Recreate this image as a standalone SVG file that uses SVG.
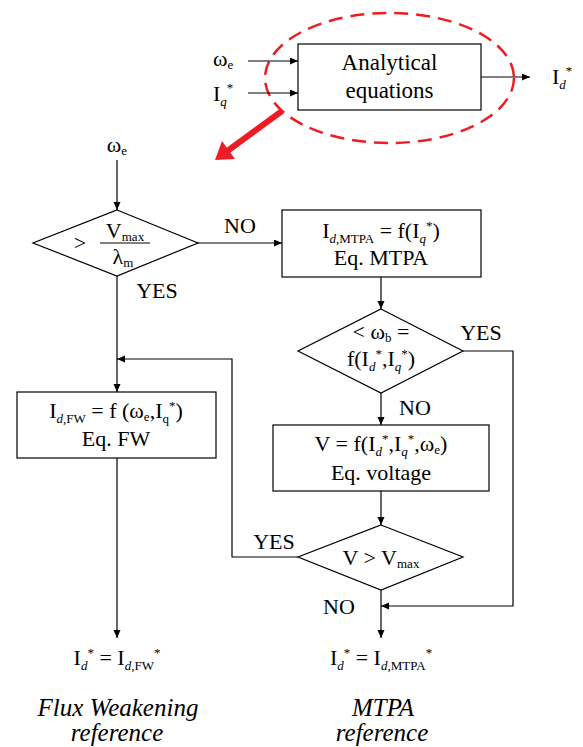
<svg xmlns="http://www.w3.org/2000/svg" width="583" height="747" viewBox="0 0 583 747">
<style>
text{font-family:"Liberation Serif","DejaVu Serif",serif}
.t{font-size:22px;fill:#000;text-anchor:middle}
.l{text-anchor:start}
.s{font-size:13px}
.i{font-style:italic}
.cap{font-size:25px;font-style:italic}
.b{fill:#fff;stroke:#000;stroke-width:1.2}
.c{fill:none;stroke:#000;stroke-width:1.2;marker-end:url(#ah)}
</style>
<defs>
<marker id="ah" markerWidth="9" markerHeight="8" refX="8" refY="3.5" orient="auto" markerUnits="userSpaceOnUse">
<path d="M0,0 L8,3.5 L0,7 z" fill="#000"/>
</marker>
</defs>
<rect width="583" height="747" fill="#fff"/>

<g id="analytical">
<rect class="b" x="298" y="44" width="183" height="66"/>
<text class="t" x="389.5" y="70" style="font-size:23px">Analytical</text>
<text class="t" x="389.5" y="98" style="font-size:23px">equations</text>
</g>
<g id="in-we"><text class="t l" x="213" y="66">ω<tspan class="s" dy="3">e</tspan></text></g>
<g id="in-iq"><text class="t l" x="213" y="101">I<tspan class="s i" dy="5">q</tspan><tspan class="s" dy="-14">*</tspan></text></g>
<g id="out-id"><text class="t l" x="552" y="84">I<tspan class="s i" dy="5">d</tspan><tspan class="s" dy="-14">*</tspan></text></g>
<g id="highlight">
<ellipse cx="389.5" cy="78" rx="124.5" ry="65" fill="none" stroke="#ee1c24" stroke-width="2.5" stroke-dasharray="14 8"/>
<line x1="282" y1="111" x2="226" y2="152" stroke="#ee1c24" stroke-width="6"/>
<polygon points="215,160 222,141 235,159" fill="#ee1c24"/>
</g>

<g id="we-label"><text class="t" x="117" y="152">ω<tspan class="s" dy="3">e</tspan></text></g>

<g id="d1">
<polygon class="b" points="117,210 198,243 117,276 33,243"/>
<text class="t" x="80" y="250">&gt;</text>
<text class="t" x="125" y="238">V<tspan class="s" dy="3">max</tspan></text>
<line x1="100" y1="243" x2="150" y2="243" stroke="#000" stroke-width="1"/>
<text class="t" x="123" y="264">λ<tspan class="s" dy="3">m</tspan></text>
</g>

<g id="mtpa">
<rect class="b" x="282" y="210" width="199" height="67"/>
<text class="t" x="381" y="238">I<tspan class="s" dy="5"><tspan class="i">d</tspan>,MTPA</tspan><tspan dy="-5"> = f(I</tspan><tspan class="s i" dy="5">q</tspan><tspan class="s" dy="-13">*</tspan><tspan dy="8">)</tspan></text>
<text class="t" x="381" y="265">Eq. MTPA</text>
</g>

<g id="d2">
<polygon class="b" points="381,309 463,351 381,393 298,351"/>
<text class="t" x="381" y="339">&lt; ω<tspan class="s" dy="3">b</tspan><tspan dy="-3"> =</tspan></text>
<text class="t" x="381" y="366">f(I<tspan class="s i" dy="5">d</tspan><tspan class="s" dy="-13">*</tspan><tspan dy="8">,I</tspan><tspan class="s i" dy="5">q</tspan><tspan class="s" dy="-13">*</tspan><tspan dy="8">)</tspan></text>
</g>

<g id="voltage">
<rect class="b" x="273" y="425" width="216" height="66"/>
<text class="t" x="381" y="451">V = f(I<tspan class="s i" dy="5">d</tspan><tspan class="s" dy="-13">*</tspan><tspan dy="8">,I</tspan><tspan class="s i" dy="5">q</tspan><tspan class="s" dy="-13">*</tspan><tspan dy="8">,ω</tspan><tspan class="s" dy="3">e</tspan><tspan dy="-3">)</tspan></text>
<text class="t" x="381" y="480">Eq. voltage</text>
</g>

<g id="d3">
<polygon class="b" points="381,525 463,557 381,590 298,557"/>
<text class="t" x="381" y="565">V &gt; V<tspan class="s" dy="3">max</tspan></text>
</g>

<g id="fw">
<rect class="b" x="17" y="392" width="199" height="66"/>
<text class="t" x="116" y="418">I<tspan class="s" dy="5"><tspan class="i">d</tspan>,FW</tspan><tspan dy="-5"> = f (ω</tspan><tspan class="s" dy="3">e</tspan><tspan dy="-3">,I</tspan><tspan class="s" dy="5">q</tspan><tspan class="s" dy="-13">*</tspan><tspan dy="8">)</tspan></text>
<text class="t" x="116" y="446">Eq. FW</text>
</g>

<g id="out-fw"><text class="t" x="117" y="665">I<tspan class="s i" dy="5">d</tspan><tspan class="s" dy="-13">*</tspan><tspan dy="8"> = I</tspan><tspan class="s" dy="5"><tspan class="i">d</tspan>,FW</tspan><tspan class="s" dy="-13">*</tspan></text></g>
<g id="out-mtpa"><text class="t" x="381" y="665">I<tspan class="s i" dy="5">d</tspan><tspan class="s" dy="-13">*</tspan><tspan dy="8"> = I</tspan><tspan class="s" dy="5"><tspan class="i">d</tspan>,MTPA</tspan><tspan class="s" dy="-13">*</tspan></text></g>

<g id="cap-fw">
<text class="t cap" x="118" y="716">Flux Weakening</text>
<text class="t cap" x="117" y="741">reference</text>
</g>
<g id="cap-mtpa">
<text class="t cap" x="383" y="716">MTPA</text>
<text class="t cap" x="382" y="741">reference</text>
</g>

<g id="connectors">
<line class="c" x1="248" y1="61" x2="298" y2="61"/>
<line class="c" x1="248" y1="93" x2="298" y2="93"/>
<line class="c" x1="481" y1="77" x2="530" y2="77"/>
<line class="c" x1="117" y1="160" x2="117" y2="210"/>
<line class="c" x1="198" y1="243" x2="282" y2="243"/>
<line class="c" x1="117" y1="276" x2="117" y2="392"/>
<line class="c" x1="381" y1="277" x2="381" y2="309"/>
<polyline class="c" points="463,351 513,351 513,606 381,606"/>
<line class="c" x1="381" y1="393" x2="381" y2="425"/>
<line class="c" x1="381" y1="491" x2="381" y2="525"/>
<polyline class="c" points="298,557 232,557 232,359 117,359"/>
<line class="c" x1="381" y1="590" x2="381" y2="638"/>
<line class="c" x1="117" y1="458" x2="117" y2="638"/>
<text class="t" x="240" y="233">NO</text>
<text class="t" x="157" y="298">YES</text>
<text class="t" x="481" y="340">YES</text>
<text class="t" x="415" y="415">NO</text>
<text class="t" x="274" y="549">YES</text>
<text class="t" x="339" y="614">NO</text>
</g>
</svg>
